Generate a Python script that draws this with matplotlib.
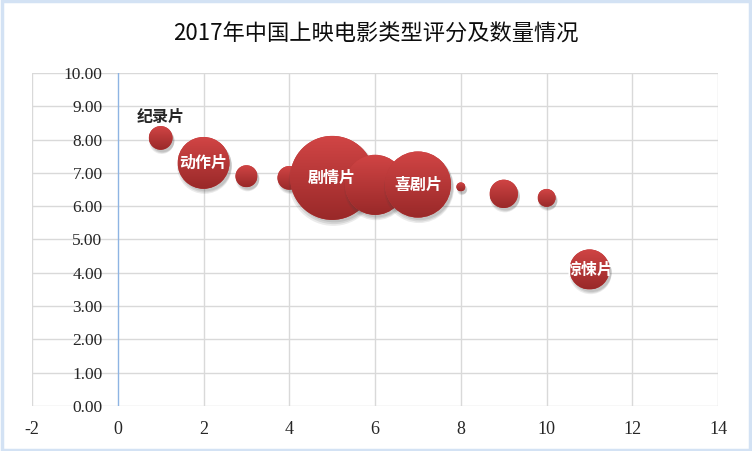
import numpy as np
import matplotlib
matplotlib.use("Agg")
import matplotlib.pyplot as plt
from matplotlib.patches import Circle, Rectangle
from matplotlib.transforms import ScaledTranslation

plt.rcParams['font.family'] = ['Noto Sans CJK SC', 'DejaVu Sans']

# ---- data ----
type_index = [1, 2, 3, 4, 5, 6, 7, 8, 9, 10, 11]
scores = [8.05, 7.30, 6.90, 6.85, 6.85, 6.64, 6.65, 6.58, 6.37, 6.25, 4.10]
counts = [14, 67, 12, 14, 176, 90, 109, 2, 20, 8, 40]
labels = ['纪录片', '动作片', '', '', '剧情片', '', '喜剧片', '', '', '', '惊悚片']
label_inside = [False, True, False, False, True, False, True, False, False, False, True]
title = '2017年中国上映电影类型评分及数量情况'
x_ticks = [-2, 0, 2, 4, 6, 8, 10, 12, 14]
y_ticks = [0, 1, 2, 3, 4, 5, 6, 7, 8, 9, 10]

fig = plt.figure(figsize=(7.52, 4.51), dpi=100)
fig.patch.set_facecolor('white')
ax = fig.add_axes([0.0426, 0.0998, 0.9124, 0.7384])
ax.set_xlim(-2, 14)
ax.set_ylim(0, 10)

for s in ax.spines.values():
    s.set_visible(False)
ax.spines['left'].set_position(('data', 0))
ax.yaxis.set_ticks_position('left')

# grid
for yv in y_ticks:
    ax.axhline(yv, color='#D9D9D9', lw=1.0, zorder=0)
for xv in x_ticks:
    if xv != 0:
        ax.axvline(xv, color='#D9D9D9', lw=1.0, zorder=0)
ax.axvline(0, color='#8EB4E3', lw=1.0, zorder=0.5)

ax.set_xticks(x_ticks)
ax.set_xticklabels([str(v) for v in x_ticks], fontfamily='Liberation Serif',
                   fontsize=13, color='#262626')
ax.set_yticks(y_ticks)
ax.set_yticklabels([f'{v:.2f}' for v in y_ticks], fontfamily='Liberation Serif',
                   fontsize=12.5, color='#262626')
ax.tick_params(axis='both', length=0)
ax.tick_params(axis='x', pad=11)
ax.tick_params(axis='y', pad=11)

# gradient
n = 256
top = np.array([0.82, 0.27, 0.27])
bot = np.array([0.60, 0.16, 0.16])
t = np.linspace(0, 1, n)[:, None]
grad = (top * (1 - t) + bot * t)[:, None, :]
grad = np.repeat(grad, 2, axis=1)

rmax_in = 0.42
vmax = max(counts)
for i, (xv, yv, c) in enumerate(zip(type_index, scores, counts)):
    r = rmax_in * np.sqrt(c / vmax)
    tr = fig.dpi_scale_trans + ScaledTranslation(xv, yv, ax.transData)
    z = 2 + i * 0.1
    for k, (dx, dy, a) in enumerate([(0.01, -0.035, 0.10), (0.015, -0.03, 0.12), (0.02, -0.025, 0.12)]):
        sh = Circle((dx, dy), r * (1.0 + 0.03 * (2 - k)), transform=tr,
                    fc='#404040', ec='none', alpha=a, zorder=z)
        ax.add_patch(sh)
    circ = Circle((0, 0), r, transform=tr, fc='#C03A3A', ec='none', zorder=z + 0.01)
    ax.add_patch(circ)
    im = ax.imshow(grad, extent=(-r, r, -r, r), transform=tr, aspect='auto',
                   interpolation='bilinear', zorder=z + 0.02)
    im.set_clip_path(circ)

ax.set_xlim(-2, 14)
ax.set_ylim(0, 10)

for xv, yv, lab, inside in zip(type_index, scores, labels, label_inside):
    if not lab:
        continue
    if inside:
        ax.annotate(lab, (xv, yv), xytext=(0, 0), textcoords='offset points',
                    ha='center', va='center', color='white', fontsize=11.5,
                    fontweight='bold', zorder=10)
    else:
        ax.annotate(lab, (xv, yv), xytext=(0, 15), textcoords='offset points',
                    ha='center', va='center', color='#262626', fontsize=11.5,
                    fontweight='bold', zorder=10)

fig.text(0.5, 0.927, title, ha='center', va='center', fontsize=16,
         fontweight='medium', color='#0D0D0D')

# figure border
fig.patches.append(Rectangle((0.002, 0.003), 0.996, 0.994, transform=fig.transFigure,
                             fill=False, ec='#D3E2F4', lw=2.5))

fig.savefig('out.png', dpi=100)
